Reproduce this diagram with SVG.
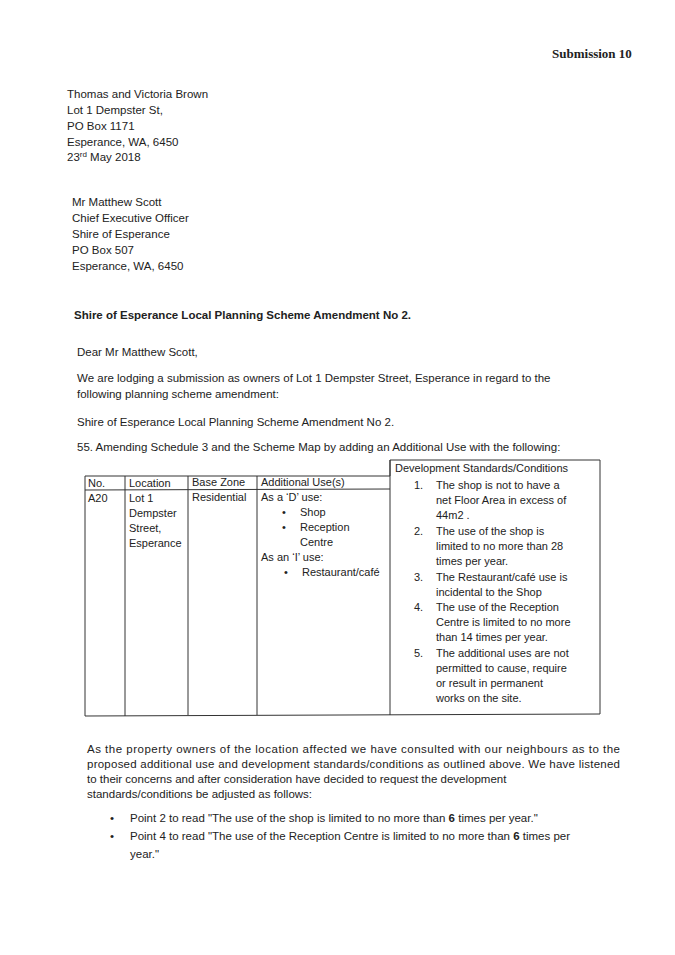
<svg xmlns="http://www.w3.org/2000/svg" width="675" height="955" viewBox="0 0 675 955">
<style>
text{font-family:"Liberation Sans","DejaVu Sans",sans-serif;font-size:11.5px;fill:#222}
.b{font-weight:bold}
.t{font-size:11px}
line,polyline{stroke:#333;stroke-width:1;fill:none}
</style>
<rect width="675" height="955" fill="#fff"/>
<text x="552" y="58" class="b" style="font-family:'Liberation Serif',serif;font-size:13px">Submission 10</text>
<g id="sender">
<text x="67" y="98">Thomas and Victoria Brown</text>
<text x="67" y="114">Lot 1 Dempster St,</text>
<text x="67" y="130">PO Box 1171</text>
<text x="67" y="146">Esperance, WA, 6450</text>
<text x="67" y="161">23<tspan dy="-4" font-size="8">rd</tspan><tspan dy="4"> May 2018</tspan></text>
</g>
<g id="recipient">
<text x="72" y="206">Mr Matthew Scott</text>
<text x="72" y="222">Chief Executive Officer</text>
<text x="72" y="238">Shire of Esperance</text>
<text x="72" y="254">PO Box 507</text>
<text x="72" y="270">Esperance, WA, 6450</text>
</g>
<text x="74" y="319" class="b">Shire of Esperance Local Planning Scheme Amendment No 2.</text>
<g id="body">
<text x="77" y="356">Dear Mr Matthew Scott,</text>
<text x="77" y="382">We are lodging a submission as owners of Lot 1 Dempster Street, Esperance in regard to the</text>
<text x="77" y="398">following planning scheme amendment:</text>
<text x="77" y="426">Shire of Esperance Local Planning Scheme Amendment No 2.</text>
<text x="77" y="451">55. Amending Schedule 3 and the Scheme Map by adding an Additional Use with the following:</text>
</g>
<g id="table">
<polyline points="85,476 390,476 390,460 600,460 600,714 85,716 85,476"/>
<line x1="85" y1="490" x2="390" y2="489"/>
<line x1="125" y1="476" x2="125" y2="716"/>
<line x1="188" y1="476" x2="188" y2="715"/>
<line x1="257" y1="476" x2="257" y2="715"/>
<line x1="390" y1="460" x2="390" y2="715"/>
<text x="88" y="487" class="t">No.</text>
<text x="129" y="487" class="t">Location</text>
<text x="192" y="486" class="t">Base Zone</text>
<text x="261" y="486" class="t">Additional Use(s)</text>
<text x="395" y="472" class="t">Development Standards/Conditions</text>
<text x="88" y="502" class="t">A20</text>
<text x="129" y="502" class="t">Lot 1</text>
<text x="129" y="517" class="t">Dempster</text>
<text x="129" y="532" class="t">Street,</text>
<text x="129" y="547" class="t">Esperance</text>
<text x="192" y="501" class="t">Residential</text>
<text x="261" y="501" class="t">As a ‘D’ use:</text>
<text x="282" y="516" class="t">•</text><text x="300" y="516" class="t">Shop</text>
<text x="282" y="531" class="t">•</text><text x="300" y="531" class="t">Reception</text>
<text x="300" y="546" class="t">Centre</text>
<text x="261" y="561" class="t">As an ‘I’ use:</text>
<text x="284" y="576" class="t">•</text><text x="302" y="576" class="t">Restaurant/café</text>
<text x="414" y="489" class="t">1.</text><text x="436" y="489" class="t">The shop is not to have a</text>
<text x="436" y="504" class="t">net Floor Area in excess of</text>
<text x="436" y="519" class="t">44m2 .</text>
<text x="414" y="535" class="t">2.</text><text x="436" y="535" class="t">The use of the shop is</text>
<text x="436" y="550" class="t">limited to no more than 28</text>
<text x="436" y="565" class="t">times per year.</text>
<text x="414" y="581" class="t">3.</text><text x="436" y="581" class="t">The Restaurant/café use is</text>
<text x="436" y="596" class="t">incidental to the Shop</text>
<text x="414" y="611" class="t">4.</text><text x="436" y="611" class="t">The use of the Reception</text>
<text x="436" y="626" class="t">Centre is limited to no more</text>
<text x="436" y="641" class="t">than 14 times per year.</text>
<text x="414" y="657" class="t">5.</text><text x="436" y="657" class="t">The additional uses are not</text>
<text x="436" y="672" class="t">permitted to cause, require</text>
<text x="436" y="687" class="t">or result in permanent</text>
<text x="436" y="702" class="t">works on the site.</text>
</g>
<g id="closing">
<text x="87" y="753" textLength="533">As the property owners of the location affected we have consulted with our neighbours as to the</text>
<text x="87" y="768" textLength="533">proposed additional use and development standards/conditions as outlined above. We have listened</text>
<text x="87" y="783">to their concerns and after consideration have decided to request the development</text>
<text x="87" y="798">standards/conditions be adjusted as follows:</text>
<text x="110" y="822">•</text><text x="130" y="822">Point 2 to read "The use of the shop is limited to no more than <tspan class="b">6</tspan> times per year."</text>
<text x="110" y="840">•</text><text x="130" y="840">Point 4 to read "The use of the Reception Centre is limited to no more than <tspan class="b">6</tspan> times per</text>
<text x="130" y="858">year."</text>
</g>
</svg>
